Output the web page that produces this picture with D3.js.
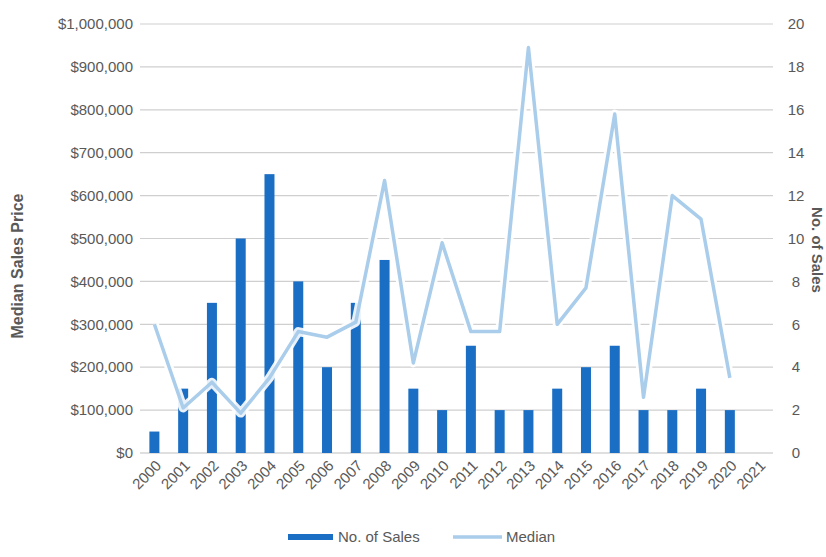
<!DOCTYPE html>
<html><head><meta charset="utf-8">
<script src="https://cdn.jsdelivr.net/npm/d3@7"></script>
<style>body{margin:0;background:#fff}svg{display:block}</style>
</head><body>
<script>
const years = ["2000","2001","2002","2003","2004","2005","2006","2007","2008","2009","2010","2011","2012","2013","2014","2015","2016","2017","2018","2019","2020","2021"];
const salesYears = years.slice(0,21);
const numSales = [1,3,7,10,13,8,4,7,9,3,2,5,2,2,3,4,5,2,2,3,2];
const medianPrice = [300000,105000,165000,93000,175000,283000,270000,305000,635000,210000,490000,283000,283000,945000,300000,385000,790000,130000,600000,545000,175000];
const leftTicks = [0,100000,200000,300000,400000,500000,600000,700000,800000,900000,1000000];
const rightTicks = [0,2,4,6,8,10,12,14,16,18,20];

const W=826,H=557;
const m={l:140,r:773,t:24,b:453};
const svg=d3.select("body").append("svg").attr("width",W).attr("height",H)
  .style("font-family","'Liberation Sans', Arial, sans-serif");
const yL=d3.scaleLinear().domain([0,1000000]).range([m.b,m.t]);
const yR=d3.scaleLinear().domain([0,20]).range([m.b,m.t]);
const bx=d3.scaleBand().domain(years).range([m.l,m.r]);
const txt="#595959";

// gridlines
svg.append("g").selectAll("line").data(leftTicks).join("line")
  .attr("x1",m.l).attr("x2",m.r).attr("y1",d=>yL(d)).attr("y2",d=>yL(d))
  .attr("stroke",d=>d===0?"#bfbfbf":"#cfcfcf").attr("stroke-width",1.2);

// left axis labels
const fmt=d=>"$"+d3.format(",")(d);
svg.append("g").selectAll("text").data(leftTicks).join("text")
  .attr("x",m.l-7).attr("y",d=>yL(d)).attr("dy","0.35em").attr("text-anchor","end")
  .attr("font-size",15).attr("fill",txt).text(fmt);
// right axis labels
svg.append("g").selectAll("text").data(rightTicks).join("text")
  .attr("x",m.r+23).attr("y",d=>yR(d)).attr("dy","0.35em").attr("text-anchor","middle")
  .attr("font-size",15).attr("fill",txt).text(d=>d);

// bars
svg.append("g").selectAll("rect").data(salesYears).join("rect")
  .attr("x",(d)=>bx(d)+bx.bandwidth()/2-5).attr("width",10)
  .attr("y",(d,i)=>yR(numSales[i])).attr("height",(d,i)=>yR(0)-yR(numSales[i]))
  .attr("fill","#1a6ec4");

// median line
const line=d3.line().x((d,i)=>bx(salesYears[i])+bx.bandwidth()/2).y(d=>yL(d));
svg.append("path").datum(medianPrice).attr("d",line).attr("fill","none")
  .attr("stroke","#ffffff").attr("stroke-width",9).attr("stroke-linejoin","round").attr("opacity",0.9);
svg.append("path").datum(medianPrice).attr("d",line).attr("fill","none")
  .attr("stroke","#a9cdea").attr("stroke-width",3.5).attr("stroke-linejoin","round");

// x labels
svg.append("g").selectAll("text").data(years).join("text")
  .attr("transform",d=>`translate(${bx(d)+bx.bandwidth()/2+4},${m.b+10}) rotate(-45)`)
  .attr("text-anchor","end").attr("dy","0.35em")
  .attr("font-size",15).attr("fill",txt).text(d=>d);

// axis titles
svg.append("text").attr("transform",`translate(23,266) rotate(-90)`)
  .attr("text-anchor","middle").attr("font-size",16).attr("font-weight","bold").attr("fill",txt)
  .text("Median Sales Price");
svg.append("text").attr("transform",`translate(812,250) rotate(90)`)
  .attr("text-anchor","middle").attr("font-size",15).attr("font-weight","bold").attr("fill",txt)
  .text("No. of Sales");

// legend
const lg=svg.append("g");
lg.append("rect").attr("x",288).attr("y",534).attr("width",45).attr("height",6).attr("fill","#1a6ec4");
lg.append("text").attr("x",338).attr("y",537).attr("dy","0.35em").attr("font-size",15).attr("fill",txt).text("No. of Sales");
lg.append("line").attr("x1",453).attr("x2",502).attr("y1",537).attr("y2",537).attr("stroke","#a9cdea").attr("stroke-width",3.5);
lg.append("text").attr("x",506).attr("y",537).attr("dy","0.35em").attr("font-size",15).attr("fill",txt).text("Median");
</script>
</body></html>
